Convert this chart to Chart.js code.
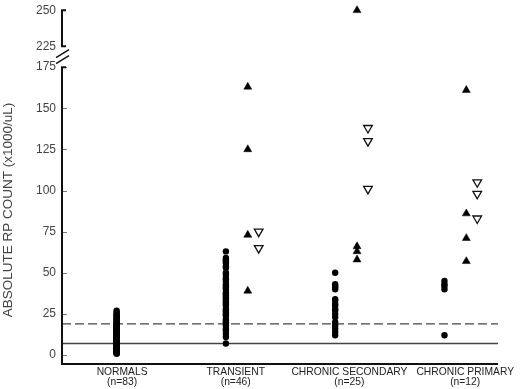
<!DOCTYPE html>
<html>
<head>
<meta charset="utf-8">
<script src="https://cdn.jsdelivr.net/npm/chart.js@4.4.0/dist/chart.umd.min.js"></script>
<style>
    html, body { margin: 0; padding: 0; background: #fff; }
</style>
</head>
<body>
<canvas id="chart" width="520" height="389"></canvas>
<script>
// groups along the x axis
const categories = ['NORMALS', 'TRANSIENT', 'CHRONIC SECONDARY', 'CHRONIC PRIMARY'];
const groupSizes = ['(n=83)', '(n=46)', '(n=25)', '(n=12)'];

// filled circles (x1000/uL)
const normals = [27, 26, 25, 24, 24, 23, 22, 22, 21, 20, 20, 19, 19, 18, 18, 18, 17, 17, 16, 16,
    16, 15, 15, 15, 14, 14, 14, 13, 13, 13, 13, 12, 12, 12, 12, 11, 11, 11, 11, 10,
    10, 10, 10, 10, 9, 9, 9, 9, 9, 8, 8, 8, 8, 8, 7, 7, 7, 7, 7, 6,
    6, 6, 6, 6, 5, 5, 5, 5, 4, 4, 4, 4, 3, 3, 3, 3, 2, 2, 2, 2,
    1, 1, 1];
const transient = [63, 59, 58, 57, 56, 54, 53, 50, 49, 47, 46, 45, 43, 42, 41, 40, 38, 37, 36, 35,
    34, 33, 32, 31, 30, 28, 27, 26, 25, 24, 22, 21, 20, 19, 18, 16, 15, 13, 11, 7];
const chronicSecondary = [50, 43, 42, 41, 40, 34, 33, 31, 30, 28, 27, 25, 23, 20, 18, 16, 14, 12];
const chronicPrimary = [45, 43, 42, 40, 12];

// filled triangles and open (inverted) triangles, per group
const filledTriangles = [[], [163, 125, 73, 39], [250, 66, 63, 58], [161, 86, 71, 57]];
const openTriangles = [[], [75, 65], [138, 130, 101], [105, 98, 83]];

// reference lines
const dashedLine = 19;
const solidLine = 7;

// axis ticks (broken axis)
const lowerTicks = [0, 25, 50, 75, 100, 125, 150, 175];
const upperTicks = [225, 250];
const breakValue = 200;

const dotGroups = [normals, transient, chronicSecondary, chronicPrimary];

const FONT = "'Liberation Sans', Arial, Helvetica, sans-serif";
Chart.defaults.font.family = FONT;

const xMin = 0.5, xMax = 4.49;
const labelPositions = [1.05, 2.09, 3.13, 4.19];

function points(groups, shift, keep) {
    const out = [];
    groups.forEach((vals, i) => {
        vals.forEach(v => { if (keep(v)) out.push({ x: i + 1 + shift, y: v }); });
    });
    return out;
}
const low = v => v < breakValue;
const high = v => v >= breakValue;

const fixAxis = (w) => (scale) => {
    scale.width = w;
    scale.paddingTop = 0;
    scale.paddingBottom = 0;
};

// draws the axis lines, inner ticks and the break marks
const brokenAxis = {
    id: 'brokenAxis',
    afterDraw(chart) {
        const { ctx, chartArea: a, scales } = chart;
        const y = scales.y, yTop = scales.yTop;
        const x0 = a.left;
        const p175 = y.getPixelForValue(lowerTicks[lowerTicks.length - 1]);
        const u0 = yTop.getPixelForValue(upperTicks[0]);
        const u1 = yTop.getPixelForValue(upperTicks[upperTicks.length - 1]);
        ctx.save();

        // small inward ticks
        ctx.strokeStyle = '#777';
        ctx.lineWidth = 1;
        ctx.beginPath();
        lowerTicks.forEach(v => {
            const py = Math.round(y.getPixelForValue(v)) + 0.5;
            ctx.moveTo(x0, py);
            ctx.lineTo(x0 + 5, py);
        });
        ctx.stroke();

        ctx.strokeStyle = '#111';
        ctx.lineWidth = 2;
        ctx.lineCap = 'butt';
        ctx.beginPath();
        ctx.moveTo(x0 + 4, p175);
        ctx.lineTo(x0, p175);
        ctx.lineTo(x0, a.bottom);
        ctx.lineTo(a.right, a.bottom);
        ctx.stroke();

        ctx.beginPath();
        ctx.moveTo(x0 + 4, u1);
        ctx.lineTo(x0, u1);
        ctx.lineTo(x0, u0);
        ctx.lineTo(x0 + 4, u0);
        ctx.stroke();

        // break marks
        const mid = (u0 + p175) / 2;
        ctx.lineWidth = 1.5;
        ctx.beginPath();
        [-3, 3].forEach(d => {
            ctx.moveTo(x0 - 6, mid + d + 4);
            ctx.lineTo(x0 + 7, mid + d - 4);
        });
        ctx.stroke();
        ctx.restore();
    }
};

new Chart(document.getElementById('chart'), {
    type: 'scatter',
    data: {
        datasets: [
            {
                data: points(dotGroups, 0, low),
                pointStyle: 'circle',
                pointRadius: 3.2,
                backgroundColor: '#000',
                borderWidth: 0,
                clip: false
            },
            {
                data: points(filledTriangles, 0.2, low),
                pointStyle: 'triangle',
                pointRadius: 4.6,
                backgroundColor: '#000',
                borderColor: '#000',
                borderWidth: 0.5,
                clip: false
            },
            {
                data: points(filledTriangles, 0.2, high),
                yAxisID: 'yTop',
                pointStyle: 'triangle',
                pointRadius: 4.6,
                backgroundColor: '#000',
                borderColor: '#000',
                borderWidth: 0.5,
                clip: false
            },
            {
                data: points(openTriangles, 0.3, low),
                pointStyle: 'triangle',
                rotation: 180,
                pointRadius: 5,
                backgroundColor: '#fff',
                borderColor: '#111',
                borderWidth: 1.3,
                clip: false
            },
            {
                data: [{ x: xMin, y: dashedLine }, { x: xMax, y: dashedLine }],
                showLine: true,
                borderColor: '#444',
                borderWidth: 1.3,
                borderDash: [9, 4],
                pointRadius: 0
            },
            {
                data: [{ x: xMin, y: solidLine }, { x: xMax, y: solidLine }],
                showLine: true,
                borderColor: '#444',
                borderWidth: 1.3,
                pointRadius: 0
            }
        ]
    },
    options: {
        responsive: false,
        animation: false,
        events: [],
        layout: { padding: { top: 5, right: 22, left: 0, bottom: 0 } },
        plugins: { legend: { display: false }, tooltip: { enabled: false } },
        scales: {
            x: {
                type: 'linear',
                min: xMin,
                max: xMax,
                grid: { display: false, drawTicks: false },
                border: { display: false },
                afterBuildTicks: s => { s.ticks = labelPositions.map(v => ({ value: v })); },
                afterFit: s => { s.height = 25; s.paddingLeft = 0; s.paddingRight = 0; },
                ticks: {
                    autoSkip: false,
                    maxRotation: 0,
                    minRotation: 0,
                    padding: 3,
                    color: '#222',
                    font: { size: 10.3, lineHeight: 1 },
                    callback: (v, i) => [categories[i], groupSizes[i]]
                }
            },
            y: {
                type: 'linear',
                position: 'left',
                stack: 'v',
                stackWeight: 309,
                min: -5.45,
                max: 181.7,
                grid: { display: false, drawTicks: false },
                border: { display: false },
                afterBuildTicks: s => { s.ticks = lowerTicks.map(v => ({ value: v })); },
                afterFit: fixAxis(62),
                ticks: { color: '#444', padding: 6, font: { size: 12 } },
                title: {
                    display: true,
                    text: 'ABSOLUTE RP COUNT (x1000/uL)',
                    color: '#444',
                    font: { size: 13.5 },
                    padding: { top: 0, bottom: 0 }
                }
            },
            yTop: {
                type: 'linear',
                position: 'left',
                stack: 'v',
                stackWeight: 50,
                min: 218.1,
                max: 252.8,
                grid: { display: false, drawTicks: false },
                border: { display: false },
                afterBuildTicks: s => { s.ticks = upperTicks.map(v => ({ value: v })); },
                afterFit: fixAxis(62),
                ticks: { color: '#444', padding: 6, font: { size: 12 } }
            }
        }
    },
    plugins: [brokenAxis]
});
</script>
</body>
</html>
